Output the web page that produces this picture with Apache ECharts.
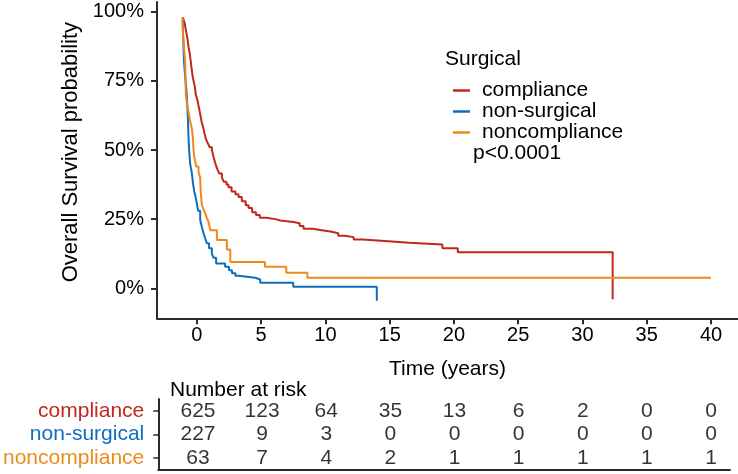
<!DOCTYPE html>
<html><head><meta charset="utf-8">
<script src="https://cdn.jsdelivr.net/npm/echarts@6/dist/echarts.min.js"></script>
<style>html,body{margin:0;padding:0;background:#fff}#c{width:738px;height:474px}</style>
</head><body><div id="c"></div>
<script>
// ---- data ----
const groups = ['compliance', 'non-surgical', 'noncompliance'];
const compliance = [
  [-1.1,0.98],[-1.04,0.976],[-0.95,0.96],[-0.88,0.94],[-0.8,0.92],[-0.72,0.90],[-0.64,0.87],
  [-0.56,0.85],[-0.5,0.83],[-0.42,0.80],[-0.34,0.77],[-0.26,0.75],[-0.16,0.73],[-0.08,0.70],
  [0.05,0.68],[0.13,0.66],[0.22,0.64],[0.3,0.62],[0.38,0.60],[0.5,0.58],[0.6,0.56],[0.7,0.54],
  [0.85,0.525],[1.0,0.51],[1.17,0.50],[1.25,0.485],[1.35,0.465],[1.45,0.45],[1.6,0.43],
  [1.75,0.415],[1.95,0.40],[2.1,0.385],[2.3,0.375],[2.46,0.365],[2.7,0.35],[3.0,0.34],
  [3.24,0.33],[3.5,0.315],[3.8,0.30],[4.02,0.29],[4.3,0.275],[4.6,0.265],[4.9,0.255],
  [5.4,0.25],[6.1,0.245],[6.5,0.24],[7.5,0.235],[8.0,0.225],[8.3,0.215],[9.0,0.21],
  [9.7,0.205],[10.4,0.199],[11.0,0.19],[11.5,0.185],[12.2,0.176],[12.9,0.17],[14.9,0.165],
  [16.5,0.158],[19.1,0.145],[20.3,0.13],[32.35,0.13],[32.35,-0.04]
];
const nonSurgical = [
  [-1.1,0.97],[-1.06,0.90],[-1.0,0.82],[-0.9,0.76],[-0.8,0.71],[-0.74,0.66],[-0.7,0.62],
  [-0.66,0.56],[-0.6,0.50],[-0.52,0.45],[-0.4,0.42],[-0.3,0.38],[-0.2,0.35],[-0.1,0.33],
  [0,0.307],[0.1,0.28],[0.26,0.247],[0.4,0.22],[0.52,0.199],[0.65,0.18],[0.78,0.163],
  [0.95,0.145],[1.17,0.125],[1.3,0.11],[1.5,0.09],[2.2,0.078],[2.5,0.065],[2.73,0.054],
  [3.0,0.045],[3.24,0.038],[4.54,0.032],[4.93,0.02],[7.5,0.006],[14.0,0.006],[14.0,-0.045]
];
const noncompliance = [
  [-1.12,0.98],[-1.1,0.93],[-1.04,0.90],[-0.98,0.86],[-0.91,0.82],[-0.88,0.76],[-0.86,0.70],
  [-0.75,0.66],[-0.65,0.638],[-0.5,0.60],[-0.39,0.578],[-0.3,0.54],[-0.26,0.50],[-0.2,0.476],
  [-0.05,0.44],[0.13,0.42],[0.26,0.40],[0.3,0.35],[0.39,0.30],[0.52,0.285],[0.65,0.27],
  [0.78,0.255],[0.91,0.24],[1.04,0.21],[1.56,0.175],[2.34,0.14],[2.6,0.095],[5.3,0.078],
  [6.96,0.056],[8.6,0.038],[40.0,0.038]
];
const xTicks = [0, 5, 10, 15, 20, 25, 30, 35, 40];
const yTicks = [0, 0.25, 0.5, 0.75, 1];
const riskTimes = [0, 5, 10, 15, 20, 25, 30, 35, 40];
const riskCompliance = [625, 123, 64, 35, 13, 6, 2, 0, 0];
const riskNonSurgical = [227, 9, 3, 0, 0, 0, 0, 0, 0];
const riskNoncompliance = [63, 7, 4, 2, 1, 1, 1, 1, 1];
const pText = 'p<0.0001';

// ---- styling ----
const colors = ['#C0281E', '#0F6DBF', '#EE8A1C'];
const FONT = "'Liberation Sans', Arial, sans-serif";
const FS = 21;
const axisCol = '#2b2b2b';

const survival = [compliance, nonSurgical, noncompliance];
const risks = [riskCompliance, riskNonSurgical, riskNoncompliance];

const lineSeries = groups.map((g, i) => ({
  name: g, type: 'line', step: 'end', xAxisIndex: 0, yAxisIndex: 0,
  data: survival[i], showSymbol: false, symbol: 'none',
  lineStyle: { color: colors[i], width: 2 }, itemStyle: { color: colors[i] },
  animation: false
}));
const riskSeries = groups.map((g, i) => ({
  type: 'scatter', xAxisIndex: 1, yAxisIndex: 1,
  data: riskTimes.map((t, j) => [t, g, risks[i][j]]),
  symbolSize: 1, itemStyle: { color: 'rgba(0,0,0,0)' },
  label: { show: true, position: 'inside', formatter: p => String(p.value[2]),
           color: '#000', fontSize: FS, fontFamily: FONT },
  silent: true, animation: false
}));

const chart = echarts.init(document.getElementById('c'), null, { renderer: 'canvas' });
chart.setOption({
  animation: false,
  textStyle: { fontFamily: FONT },
  grid: [
    { left: 157, right: 0, top: 2, bottom: 155.7 },
    { left: 157, right: 8, top: 399, height: 70.5 }
  ],
  xAxis: [
    { type: 'value', gridIndex: 0, min: -3.1, max: 42.1,
      name: 'Time (years)', nameLocation: 'middle', nameGap: 40,
      nameTextStyle: { fontSize: FS, color: '#000', fontFamily: FONT },
      axisLine: { show: true, onZero: false, lineStyle: { color: axisCol, width: 2 } },
      axisTick: { show: true, length: 6, lineStyle: { color: axisCol, width: 2 }, customValues: xTicks },
      axisLabel: { fontSize: 20, color: '#000', margin: 7, customValues: xTicks, fontFamily: FONT },
      splitLine: { show: false } },
    { type: 'value', gridIndex: 1, min: -3.1, max: 41.48,
      axisLine: { show: true, onZero: false, lineStyle: { color: axisCol, width: 2 } },
      axisTick: { show: false }, axisLabel: { show: false }, splitLine: { show: false } }
  ],
  yAxis: [
    { type: 'value', gridIndex: 0, min: -0.1085, max: 1.035,
      name: 'Overall Survival probability', nameLocation: 'middle', nameGap: 68,
      nameTextStyle: { fontSize: 22, color: '#000', fontFamily: FONT, padding: [0, 0, 0, 16] },
      axisLine: { show: true, onZero: false, lineStyle: { color: axisCol, width: 2 } },
      axisTick: { show: true, length: 6, lineStyle: { color: axisCol, width: 2 }, customValues: yTicks },
      axisLabel: { fontSize: 20, color: '#000', margin: 13, customValues: yTicks, fontFamily: FONT,
                   formatter: v => Math.round(v * 100) + '%' },
      splitLine: { show: false } },
    { type: 'category', gridIndex: 1, data: groups, inverse: true,
      axisLine: { show: true, onZero: false, lineStyle: { color: axisCol, width: 2 } },
      axisTick: { show: true, alignWithLabel: true, length: 5, lineStyle: { color: axisCol, width: 1.5 } },
      axisLabel: { fontSize: FS, margin: 14, fontFamily: FONT, interval: 0, hideOverlap: false,
                   color: (v, idx) => colors[groups.indexOf(v)] },
      splitLine: { show: false } }
  ],
  legend: {
    data: groups, orient: 'vertical', left: 448, top: 75,
    icon: 'rect', itemWidth: 17, itemHeight: 2.5, itemGap: 0,
    textStyle: { fontSize: FS, color: '#000', fontFamily: FONT, lineHeight: 19, padding: [0, 0, 0, 7] },
    selectedMode: false
  },
  graphic: [
    { type: 'text', left: 445, top: 49, style: { text: 'Surgical', fontSize: FS, fill: '#000', fontFamily: FONT } },
    { type: 'text', left: 473, top: 143, style: { text: pText, fontSize: FS, fill: '#000', fontFamily: FONT } },
    { type: 'text', left: 170, top: 380, style: { text: 'Number at risk', fontSize: FS, fill: '#000', fontFamily: FONT } }
  ],
  series: lineSeries.concat(riskSeries)
});
</script>
</body></html>
